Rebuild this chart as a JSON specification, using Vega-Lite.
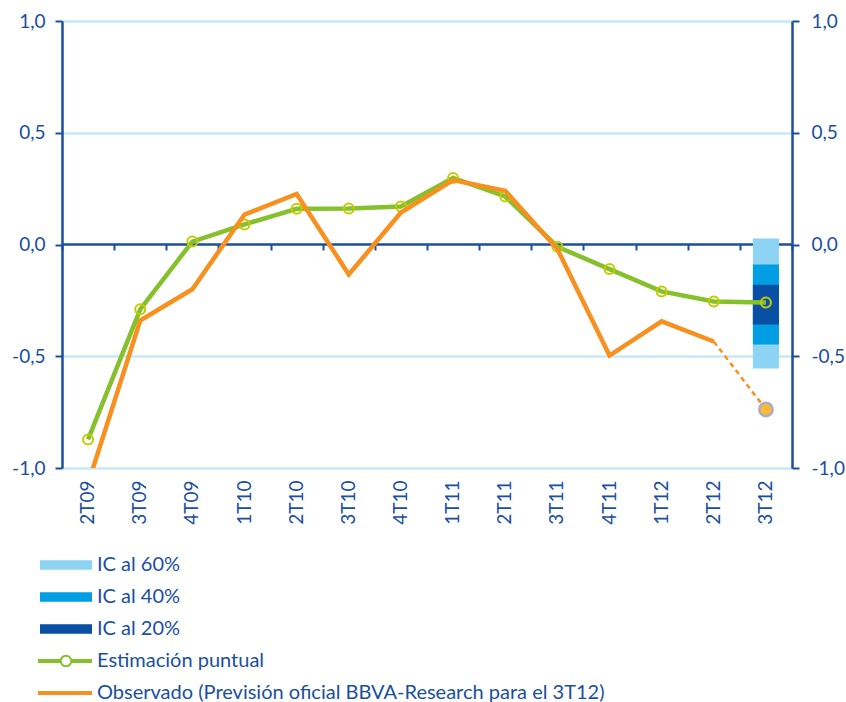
{
  "$schema": "https://vega.github.io/schema/vega-lite/v6.json",
  "width": 730,
  "height": 447,
  "autosize": {"type": "none"},
  "padding": {"left": 62, "top": 21, "right": 54, "bottom": 234},
  "background": "white",
  "config": {
    "view": {"stroke": null},
    "axis": {"labelFont": "Lato", "labelColor": "#1A4FA0", "labelFontSize": 19, "titleFont": "Lato"},
    "legend": {"labelFont": "Lato"}
  },
  "datasets": {
    "bands": [
      {"t": "3T12", "serie": "IC al 60%", "lo": -0.555, "hi": 0.027},
      {"t": "3T12", "serie": "IC al 40%", "lo": -0.447, "hi": -0.09},
      {"t": "3T12", "serie": "IC al 20%", "lo": -0.358, "hi": -0.18}
    ],
    "est": [
      {"t": "2T09", "v": -0.872}, {"t": "3T09", "v": -0.29}, {"t": "4T09", "v": 0.013},
      {"t": "1T10", "v": 0.09}, {"t": "2T10", "v": 0.16}, {"t": "3T10", "v": 0.161},
      {"t": "4T10", "v": 0.17}, {"t": "1T11", "v": 0.298}, {"t": "2T11", "v": 0.215},
      {"t": "3T11", "v": -0.01}, {"t": "4T11", "v": -0.11}, {"t": "1T12", "v": -0.21},
      {"t": "2T12", "v": -0.255}, {"t": "3T12", "v": -0.26}
    ],
    "obs": [
      {"t": "2T09", "v": -1.07}, {"t": "3T09", "v": -0.34}, {"t": "4T09", "v": -0.2},
      {"t": "1T10", "v": 0.134}, {"t": "2T10", "v": 0.226}, {"t": "3T10", "v": -0.134},
      {"t": "4T10", "v": 0.143}, {"t": "1T11", "v": 0.288}, {"t": "2T11", "v": 0.24},
      {"t": "3T11", "v": -0.02}, {"t": "4T11", "v": -0.497}, {"t": "1T12", "v": -0.344},
      {"t": "2T12", "v": -0.434}
    ],
    "pred": [
      {"t": "2T12", "v": -0.434}, {"t": "3T12", "v": -0.738}
    ]
  },
  "layer": [
    {
      "data": {"name": "bands"},
      "mark": {"type": "bar", "width": {"band": 0.5}},
      "encoding": {
        "x": {
          "field": "t", "type": "nominal",
          "scale": {"type": "band", "domain": ["2T09","3T09","4T09","1T10","2T10","3T10","4T10","1T11","2T11","3T11","4T11","1T12","2T12","3T12"], "paddingInner": 0, "paddingOuter": 0},
          "axis": {"orient": "bottom", "title": null, "domain": false, "ticks": false, "grid": false, "labelAngle": -90, "labelAlign": "right", "labelBaseline": "middle", "labelPadding": 12, "labelFontSize": 19}
        },
        "y": {
          "field": "lo", "type": "quantitative",
          "scale": {"domain": [-1, 1], "nice": false, "zero": false},
          "axis": {
            "orient": "left", "title": null, "values": [-1, -0.5, 0, 0.5, 1],
            "labelExpr": "(datum.value < 0 ? '-' : '') + replace(format(abs(datum.value), '.1f'), '.', ',')",
            "domainColor": "#1A4FA0", "domainWidth": 2.5, "tickColor": "#1A4FA0", "tickWidth": 2, "tickSize": 7,
            "labelPadding": 10, "grid": true, "gridWidth": 2.5,
            "gridColor": {"condition": {"test": "datum.value == 0", "value": "transparent"}, "value": "#C6E9F8"},
            "zindex": 0
          }
        },
        "y2": {"field": "hi"},
        "color": {
          "field": "serie", "type": "nominal",
          "scale": {
            "domain": ["IC al 60%", "IC al 40%", "IC al 20%", "Estimación puntual", "Observado (Previsión oficial BBVA-Research para el 3T12)"],
            "range": ["#8DD3F4", "#009EE2", "#094FA4", "#86C02C", "#F7901E"]
          },
          "legend": {
            "title": null, "orient": "none", "legendX": -6, "legendY": 534, "padding": 0,
            "symbolSize": 400, "labelOffset": 21, "rowPadding": 12, "labelFontSize": 20, "labelColor": "#1A4FA0",
            "labelLimit": 0,
            "encode": {
              "symbols": {
                "update": {
                  "shape": {"signal": "datum.value == 'Estimación puntual' ? 'M-2.8,-0.2H-0.58V0.2H-2.8Z M0.58,-0.2H2.6V0.2H0.58Z M0.62,0A0.62,0.62 0 1,1 -0.62,0A0.62,0.62 0 1,1 0.62,0Z M0.43,0A0.43,0.43 0 1,0 -0.43,0A0.43,0.43 0 1,0 0.43,0Z' : (indexof(datum.value, 'Observado') == 0 ? 'M-2.8,-0.2H2.6V0.2H-2.8Z' : 'M-2.6,-0.47H2.6V0.47H-2.6Z')"},
                  "fill": {"signal": "scale('color', datum.value)"},
                  "stroke": {"value": "transparent"},
                  "strokeWidth": {"value": 0},
                  "opacity": {"value": 1}
                }
              }
            }
          }
        }
      }
    },
    {
      "data": {"name": "est"},
      "mark": {"type": "line", "color": "#86C02C", "strokeWidth": 4.5},
      "encoding": {
        "x": {
          "field": "t", "type": "nominal",
          "axis": {"orient": "bottom", "offset": -224, "title": null, "labels": false, "grid": false, "domainColor": "#1A4FA0", "domainWidth": 2.5, "tickColor": "#1A4FA0", "tickWidth": 2, "tickSize": 6, "tickBand": "extent", "zindex": 0}
        },
        "y": {"field": "v", "type": "quantitative", "axis": null}
      }
    },
    {
      "data": {"name": "est"},
      "mark": {"type": "point", "shape": "circle", "filled": false, "stroke": "#C5CB00", "strokeWidth": 2, "size": 100, "fill": "white", "fillOpacity": 0, "opacity": 1},
      "encoding": {
        "x": {"field": "t", "type": "nominal", "axis": null},
        "y": {"field": "v", "type": "quantitative", "axis": null}
      }
    },
    {
      "data": {"name": "obs"},
      "mark": {"type": "line", "color": "#F7901E", "strokeWidth": 4.5, "clip": true},
      "encoding": {
        "x": {"field": "t", "type": "nominal", "axis": null},
        "y": {
          "field": "v", "type": "quantitative",
          "axis": {
            "orient": "right", "title": null, "values": [-1, -0.5, 0, 0.5, 1],
            "labelExpr": "(datum.value < 0 ? '-' : '') + replace(format(abs(datum.value), '.1f'), '.', ',')",
            "domainColor": "#1A4FA0", "domainWidth": 2.5, "tickColor": "#1A4FA0", "tickWidth": 2, "tickSize": 7,
            "labelPadding": 12, "grid": false, "zindex": 0
          }
        }
      }
    },
    {
      "data": {"name": "pred"},
      "mark": {"type": "line", "color": "#F7901E", "strokeWidth": 2.5, "strokeDash": [5, 4]},
      "encoding": {
        "x": {"field": "t", "type": "nominal", "axis": null},
        "y": {"field": "v", "type": "quantitative", "axis": null}
      }
    },
    {
      "data": {"name": "pred"},
      "transform": [{"filter": "datum.t == '3T12'"}],
      "mark": {"type": "point", "shape": "circle", "filled": true, "fill": "#FDB933", "stroke": "#A8AEC8", "strokeWidth": 2.5, "size": 180, "opacity": 1},
      "encoding": {
        "x": {"field": "t", "type": "nominal", "axis": null},
        "y": {"field": "v", "type": "quantitative", "axis": null}
      }
    }
  ],
  "resolve": {"axis": {"x": "independent", "y": "independent"}}
}
